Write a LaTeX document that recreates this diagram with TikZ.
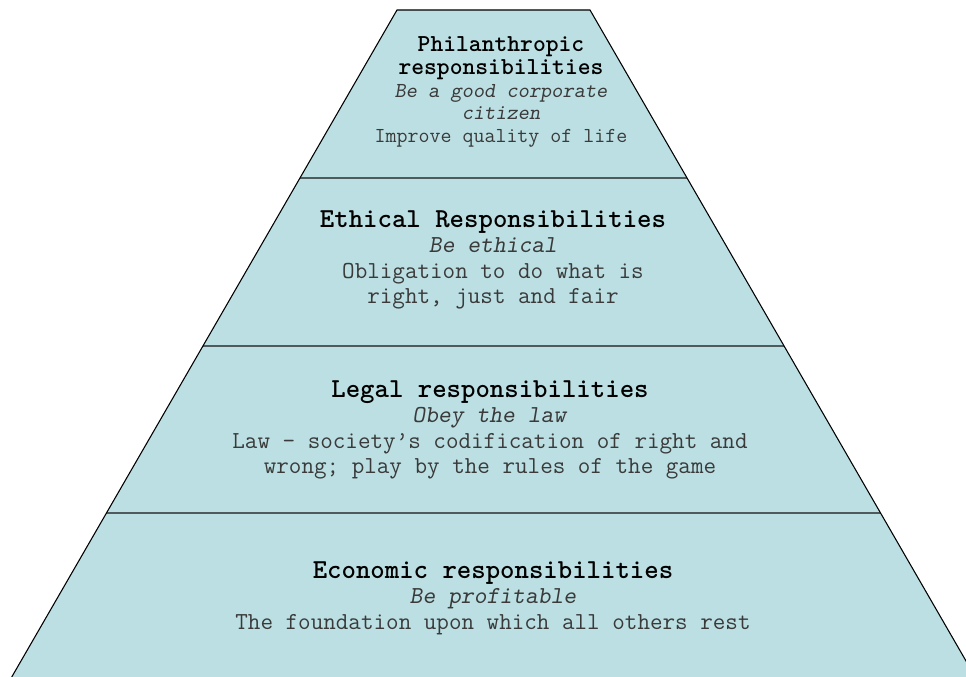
\documentclass[tikz,border=0pt]{standalone}
\usepackage{xcolor}
\usetikzlibrary{positioning}

\definecolor{tierfill}{HTML}{BBDFE2}
\definecolor{bodygray}{HTML}{3A3A3A}
\definecolor{rulegray}{HTML}{4F5A5D}

% bold heading line of a tier
\newcommand{\tiertitle}[2][20.6]{{\fontsize{#1}{19}\selectfont\color{black}\bfseries #2}}

\begin{document}
\begin{tikzpicture}
  [x=0.75pt,y=-0.75pt,every node/.style={align=center, text=bodygray, inner sep=0pt, font=\ttfamily\fontsize{18.3}{19}\selectfont}]
  \useasboundingbox (0,0) rectangle (966,677);
  \clip (0,0) rectangle (966,677);

  % pyramid body and tier rules
  \fill[tierfill] (397,10) -- (590,10) -- (977,680) -- (10,680) -- cycle;
  \begin{scope}
    \clip (397,10) -- (590,10) -- (977,680) -- (10,680) -- cycle;
    \foreach \y in {178,346,513}
    \draw[rulegray, line width=1.1pt] (0,\y) -- (966,\y);
  \end{scope}
  \draw[line width=0.8pt] (10,680) -- (397,10) -- (590,10) -- (977,680);

  \node[font=\ttfamily\fontsize{16}{17}\selectfont] (phil) at (501,92)
    {\tiertitle[18.3]{Philanthropic}\\ \tiertitle[18.3]{responsibilities}\\
     \textsl{Be a good corporate}\\ \textsl{citizen}\\ Improve quality of life};
  \node (ethic) at (493,260)
    {\tiertitle{Ethical Responsibilities}\\ \textsl{Be ethical}\\
     Obligation to do what is\\ right, just and fair};
  \node (legal) at (490,430)
    {\tiertitle{Legal responsibilities}\\ \textsl{Obey the law}\\
     Law – society’s codification of right and\\ wrong; play by the rules of the game};
  \node (econ) at (493,598)
    {\tiertitle{Economic responsibilities}\\ \textsl{Be profitable}\\
     The foundation upon which all others rest};
\end{tikzpicture}
\end{document}
